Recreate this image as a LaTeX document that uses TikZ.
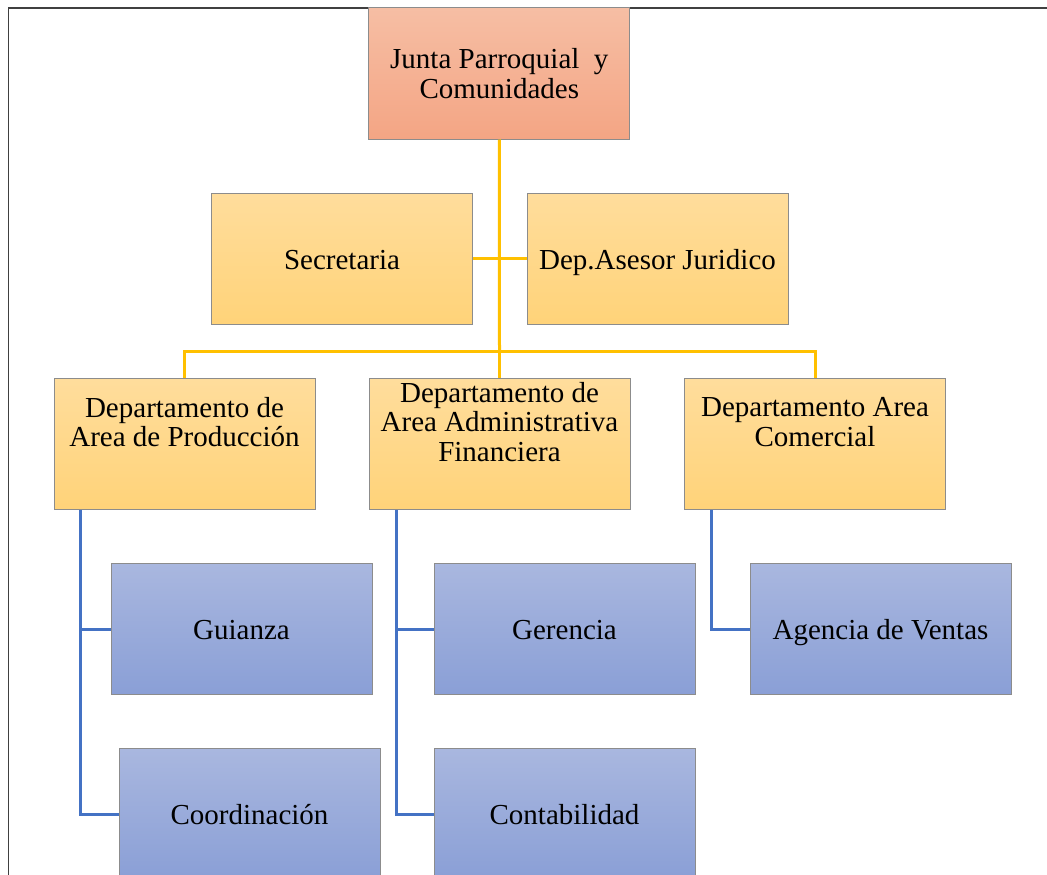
\documentclass[tikz,border=0pt]{standalone}
\usepackage{fontspec}
\setmainfont{Liberation Serif}
\usepackage{tikz}
\usepackage{color}
\definecolor{boxline}{HTML}{8C8C8C}
\definecolor{linkyellow}{HTML}{FFC000}
\definecolor{linkblue}{HTML}{4472C4}
\tikzset{
  box/.style={draw=boxline, line width=1pt, minimum width=261pt, minimum height=131pt,
    inner sep=0pt, align=center, font=\fontsize{29}{29.5}\selectfont},
  oneline/.style={text height=21pt, text depth=0pt},
  redbox/.style={box, top color={rgb,255:red,246;green,190;blue,164}, bottom color={rgb,255:red,244;green,165;blue,132}},
  yelbox/.style={box, top color={rgb,255:red,255;green,221;blue,156}, bottom color={rgb,255:red,255;green,211;blue,121}},
  bluebox/.style={box, oneline, top color={rgb,255:red,169;green,183;blue,223}, bottom color={rgb,255:red,138;green,159;blue,214}},
  txt/.style={align=center, inner sep=0pt, font=\fontsize{29}{29.5}\selectfont},
  upper/.style={linkyellow, line width=3pt},
  lower/.style={linkblue, line width=3pt}
}

\begin{document}
\begin{tikzpicture}[x=1pt,y=-1pt]
\useasboundingbox (0,0) rectangle (1047,875);
\clip (0,0) rectangle (1047,875);
\draw[black!75, line width=1.2pt] (1047,8) -- (8.5,8) -- (8.5,875);

\node[redbox] (junta) at (499.3,73.5) {Junta Parroquial~ y\\Comunidades};
\node[yelbox, oneline] (secr) at (342,258.5) {Secretaria};
\node[yelbox, oneline] (asesor) at (657.5,258.5) {Dep.Asesor Juridico};

\node[yelbox] (prod) at (184.5,444) {};
\node[yelbox] (admin) at (499.5,444) {};
\node[yelbox] (com) at (815,444) {};
\node[txt] (prod-t) at ([yshift=22pt]prod.center) {Departamento de\\Area de Producción};
\node[txt] (admin-t) at ([yshift=22pt]admin.center) {Departamento de\\Area Administrativa\\Financiera};
\node[txt] (com-t) at ([yshift=22pt]com.center) {Departamento Area\\Comercial};

\node[bluebox] (guia) at (241.5,629) {Guianza};
\node[bluebox] (coord) at (249.5,814) {Coordinación};
\node[bluebox] (ger) at (564.5,629) {Gerencia};
\node[bluebox] (conta) at (564.5,814) {Contabilidad};
\node[bluebox] (agencia) at (880.5,629) {Agencia de Ventas};

\coordinate (bar) at (499.5,351);
\draw[upper] (junta.south) -- (bar);
\draw[upper] (secr.east) -- (asesor.west);
\draw[upper] (prod.north) |- (bar) -| (com.north);
\draw[upper] (bar) -- (admin.north);

\draw[lower] ([xshift=-104.5pt]prod.south) |- (guia.west);
\draw[lower] ([xshift=-104.5pt]prod.south) |- (coord.west);
\draw[lower] ([xshift=-103.5pt]admin.south) |- (ger.west);
\draw[lower] ([xshift=-103.5pt]admin.south) |- (conta.west);
\draw[lower] ([xshift=-103.5pt]com.south) |- (agencia.west);
\end{tikzpicture}
\end{document}
